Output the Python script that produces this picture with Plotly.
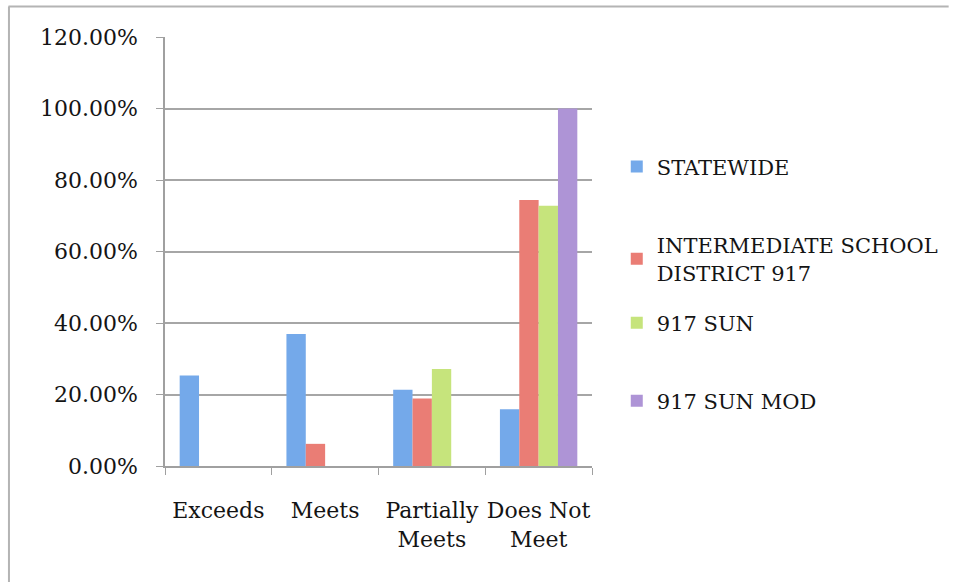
import plotly.graph_objects as go

categories = ["Exceeds", "Meets", "Partially Meets", "Does Not Meet"]
tick_labels = ["Exceeds", "Meets", "Partially<br>Meets", "Does Not<br>Meet"]
series_names = ["STATEWIDE", "INTERMEDIATE SCHOOL<br>DISTRICT 917", "917 SUN", "917 SUN MOD"]
statewide = [0.253, 0.369, 0.213, 0.159]
isd917 = [0.0, 0.062, 0.189, 0.744]
sun917 = [0.0, 0.0, 0.271, 0.728]
sunmod917 = [0.0, 0.0, 0.0, 1.0]
y_ticks = [0, 0.2, 0.4, 0.6, 0.8, 1.0, 1.2]

colors = ["#74a9ea", "#ea7d75", "#c6e47c", "#ae94d6"]
values = [statewide, isd917, sun917, sunmod917]
legend_ids = ["legend", "legend2", "legend3", "legend4"]
legend_y = [0.745, 0.562, 0.381, 0.199]

FONT = "DejaVu Serif"
TXT = "#141414"
fig = go.Figure()
for name, vals, col, lid in zip(series_names, values, colors, legend_ids):
    fig.add_trace(go.Bar(
        x=categories, y=vals, name=name, legend=lid,
        marker=dict(color=col, line=dict(width=0)),
    ))

layout_legends = {}
for lid, ly in zip(legend_ids, legend_y):
    layout_legends[lid] = dict(
        x=1.058, xanchor="left", y=ly, yanchor="top",
        font=dict(family=FONT, size=21, color=TXT),
        bgcolor="rgba(0,0,0,0)", borderwidth=0,
    )

fig.update_layout(
    width=956, height=582,
    margin=dict(l=165, r=360, t=37, b=116),
    paper_bgcolor="white", plot_bgcolor="white",
    barmode="group", bargap=0.275, bargroupgap=0,
    showlegend=True,
    font=dict(family=FONT, size=22, color=TXT),
    **layout_legends,
)
fig.update_xaxes(
    type="category", tickvals=categories, ticktext=tick_labels,
    tickson="boundaries", ticks="outside", ticklen=7, tickcolor="#a0a0a0",
    showline=True, linecolor="#a0a0a0", linewidth=1.5,
    showgrid=False, ticklabelstandoff=24, tickangle=0, automargin=False,
    tickfont=dict(family=FONT, size=22, color=TXT),
)
fig.update_yaxes(
    range=[0, 1.2], tickvals=y_ticks, tickformat=".2%",
    ticks="outside", ticklen=7, tickcolor="#a0a0a0",
    showline=True, linecolor="#a0a0a0", linewidth=1.5,
    showgrid=True, gridcolor="#a6a6a6", gridwidth=1.5,
    zeroline=False, ticklabelstandoff=14, automargin=False,
    tickfont=dict(family=FONT, size=22, color=TXT),
)
# outer chart frame (top and left edges)
fig.add_shape(type="line", xref="paper", yref="paper",
              x0=(7 - 165) / 431, x1=(956 - 165) / 431, y0=(466 - 6.5) / 429, y1=(466 - 6.5) / 429,
              line=dict(color="#b4b4b4", width=2))
fig.add_shape(type="line", xref="paper", yref="paper",
              x0=(7.5 - 165) / 431, x1=(7.5 - 165) / 431, y0=(466 - 6.5) / 429, y1=(466 - 600) / 429,
              line=dict(color="#b4b4b4", width=2))

fig.write_html("out.html")
